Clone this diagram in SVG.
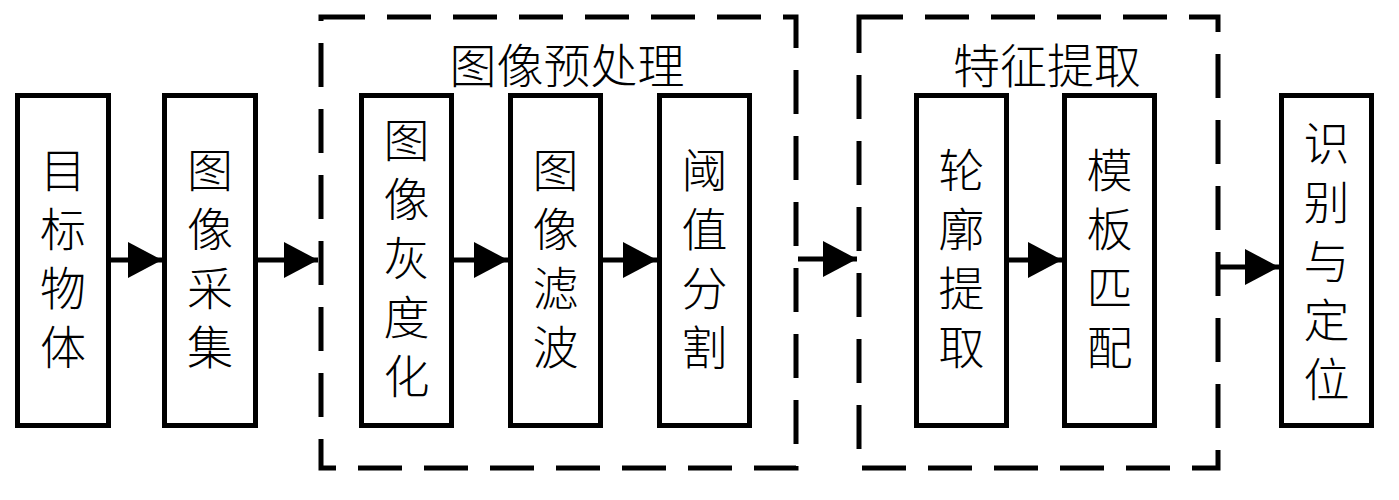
<svg xmlns="http://www.w3.org/2000/svg" width="1399" height="500" viewBox="0 0 1399 500">
<style>
.box{fill:#fff;stroke:#000;stroke-width:5}
.grp{fill:none;stroke:#000;stroke-width:5;stroke-dasharray:44 22}
.t{font-family:"Noto Sans CJK SC","Noto Sans CJK JP",sans-serif;font-size:46px;font-weight:300;fill:#000;text-anchor:middle}
.v{writing-mode:vertical-rl;letter-spacing:13px}
.ttl{font-size:47px;dominant-baseline:central}
.c{stroke:#000;stroke-width:5;fill:none;marker-end:url(#ah)}
</style>
<defs>
<marker id="ah" markerUnits="userSpaceOnUse" markerWidth="34" markerHeight="36" refX="34" refY="18" orient="auto">
<path d="M0,0 L34,18 L0,36 Z" fill="#000"/>
</marker>
</defs>
<rect width="1399" height="500" fill="#fff"/>
<g id="group-preprocess">
<rect class="grp" x="321" y="17" width="475" height="451"/>
<text class="t ttl" x="567" y="62">图像预处理</text>
</g>
<g id="group-feature">
<rect class="grp" x="859" y="17" width="359" height="451"/>
<text class="t ttl" x="1047" y="62">特征提取</text>
</g>
<g id="connectors">
<line class="c" x1="111" y1="260" x2="162" y2="260"/>
<line class="c" x1="258" y1="260" x2="318" y2="260"/>
<line class="c" x1="454" y1="260" x2="508" y2="260"/>
<line class="c" x1="603" y1="260" x2="657" y2="260"/>
<line class="c" x1="798" y1="259" x2="857" y2="259"/>
<line class="c" x1="1009" y1="260" x2="1062" y2="260"/>
<line class="c" x1="1220" y1="267" x2="1279" y2="267"/>
</g>
<g id="n1">
<rect class="box" x="17.5" y="95.5" width="91" height="330"/>
<text class="t v" x="63" y="265">目标物体</text>
</g>
<g id="n2">
<rect class="box" x="164.5" y="95.5" width="91" height="330"/>
<text class="t v" x="210" y="265">图像采集</text>
</g>
<g id="n3">
<rect class="box" x="361.5" y="95.5" width="90" height="330"/>
<text class="t v" x="406.5" y="264.5">图像灰度化</text>
</g>
<g id="n4">
<rect class="box" x="510.5" y="95.5" width="90" height="330"/>
<text class="t v" x="555.5" y="265">图像滤波</text>
</g>
<g id="n5">
<rect class="box" x="659.5" y="95.5" width="90" height="330"/>
<text class="t v" x="704.5" y="265">阈值分割</text>
</g>
<g id="n6">
<rect class="box" x="916.5" y="95.5" width="90" height="330"/>
<text class="t v" x="961.5" y="265">轮廓提取</text>
</g>
<g id="n7">
<rect class="box" x="1064.5" y="95.5" width="90" height="330"/>
<text class="t v" x="1109.5" y="265">模板匹配</text>
</g>
<g id="n8">
<rect class="box" x="1281.5" y="95.5" width="90" height="330"/>
<text class="t v" x="1326.5" y="267.5">识别与定位</text>
</g>
</svg>
